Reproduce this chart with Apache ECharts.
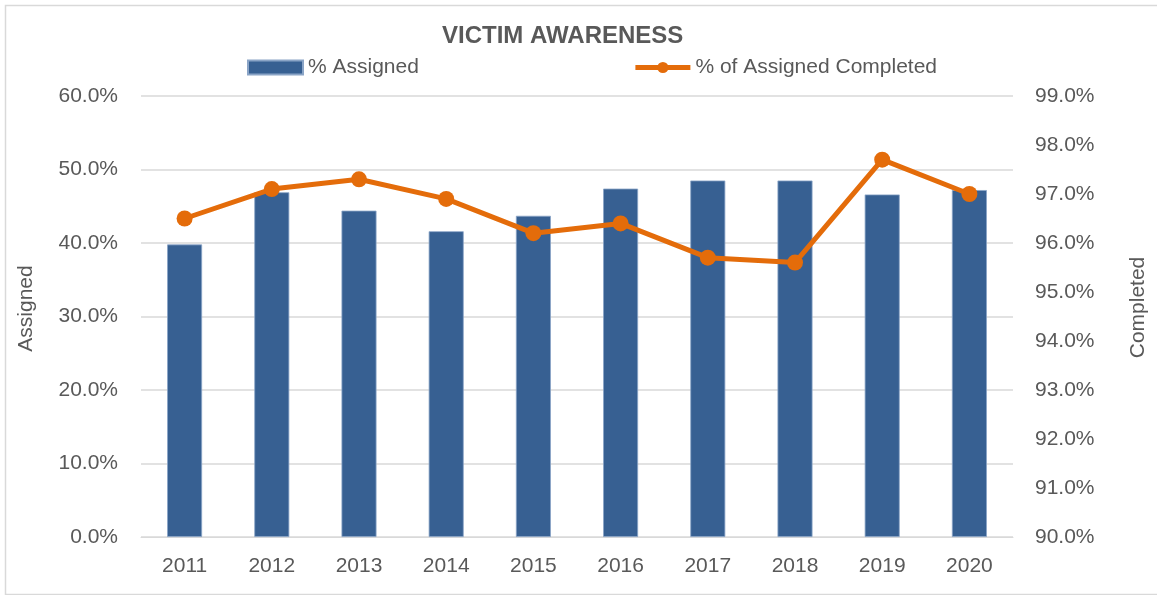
<!DOCTYPE html>
<html lang="en">
<head>
    <meta charset="UTF-8">
    <title>Victim Awareness</title>
    <script type="text/javascript" src="https://cdn.jsdelivr.net/npm/echarts@6/dist/echarts.min.js"></script>
    <style>
        html, body { margin: 0; padding: 0; background: #fff; }
    </style>
</head>
<body>

    <div id="chart" style="width:1157px;height:595px;"></div>

<script type="text/javascript">
    var years = ['2011', '2012', '2013', '2014', '2015', '2016', '2017', '2018', '2019', '2020'];
    // % Assigned (left axis)
    var assigned = [39.8, 46.9, 44.4, 41.6, 43.7, 47.4, 48.5, 48.5, 46.6, 47.2];
    // % of Assigned Completed (right axis)
    var completed = [96.5, 97.1, 97.3, 96.9, 96.2, 96.4, 95.7, 95.6, 97.7, 97.0];

    var textColor = '#595959';
    var fontName = '"Liberation Sans", Arial, sans-serif';

    var myChart = echarts.init(document.getElementById('chart'));
    var option = {
        animation: false,
        textStyle: { fontFamily: fontName },
        title: {
            text: 'VICTIM AWARENESS',
            left: 437,
            top: 19,
            textStyle: {
                color: textColor,
                fontSize: 24,
                fontWeight: 'bold',
                fontFamily: fontName
            }
        },
        legend: {
            top: 52,
            left: 242,
            itemGap: 214,
            itemWidth: 55,
            itemHeight: 14,
            textStyle: { color: textColor, fontSize: 21, fontFamily: fontName },
            data: [
                { name: '% Assigned', icon: 'rect' },
                { name: '% of Assigned Completed', lineStyle: { width: 5 } }
            ]
        },
        graphic: [{
            type: 'rect',
            shape: { x: 5.5, y: 5.5, width: 1160, height: 589 },
            style: { fill: 'none', stroke: '#d9d9d9', lineWidth: 1.5 },
            silent: true
        }],
        grid: { left: 141, right: 139, top: 96, bottom: 58 },
        xAxis: {
            type: 'category',
            data: years,
            axisLine: { lineStyle: { color: '#d9d9d9' } },
            axisTick: { show: false },
            axisLabel: { color: textColor, fontSize: 21, margin: 19 }
        },
        yAxis: [{
            type: 'value',
            name: 'Assigned',
            nameLocation: 'middle',
            nameGap: 104,
            nameTextStyle: { color: textColor, fontSize: 21, padding: [0, 0, 0, 16] },
            min: 0,
            max: 60,
            interval: 10,
            axisLine: { show: false },
            axisTick: { show: false },
            axisLabel: {
                color: textColor,
                fontSize: 21,
                margin: 23,
                formatter: function (v) { return v.toFixed(1) + '%'; }
            },
            splitLine: { lineStyle: { color: '#d9d9d9', width: 1.5 } }
        }, {
            type: 'value',
            name: 'Completed',
            nameLocation: 'middle',
            nameGap: 115,
            nameRotate: 90,
            nameTextStyle: { color: textColor, fontSize: 21, padding: [0, 0, 0, 18] },
            min: 90,
            max: 99,
            interval: 1,
            axisLine: { show: false },
            axisTick: { show: false },
            axisLabel: {
                color: textColor,
                fontSize: 21,
                margin: 22,
                formatter: function (v) { return v.toFixed(1) + '%'; }
            },
            splitLine: { show: false }
        }],
        series: [{
            name: '% Assigned',
            type: 'bar',
            data: assigned,
            barWidth: 35,
            itemStyle: { color: '#376092', borderColor: '#8aa4c6', borderWidth: 0.8 }
        }, {
            name: '% of Assigned Completed',
            type: 'line',
            yAxisIndex: 1,
            data: completed,
            symbol: 'circle',
            symbolSize: 16,
            lineStyle: { color: '#e46c0a', width: 5 },
            itemStyle: { color: '#e46c0a' }
        }]
    };

    myChart.setOption(option, true);
</script>

</body>
</html>
